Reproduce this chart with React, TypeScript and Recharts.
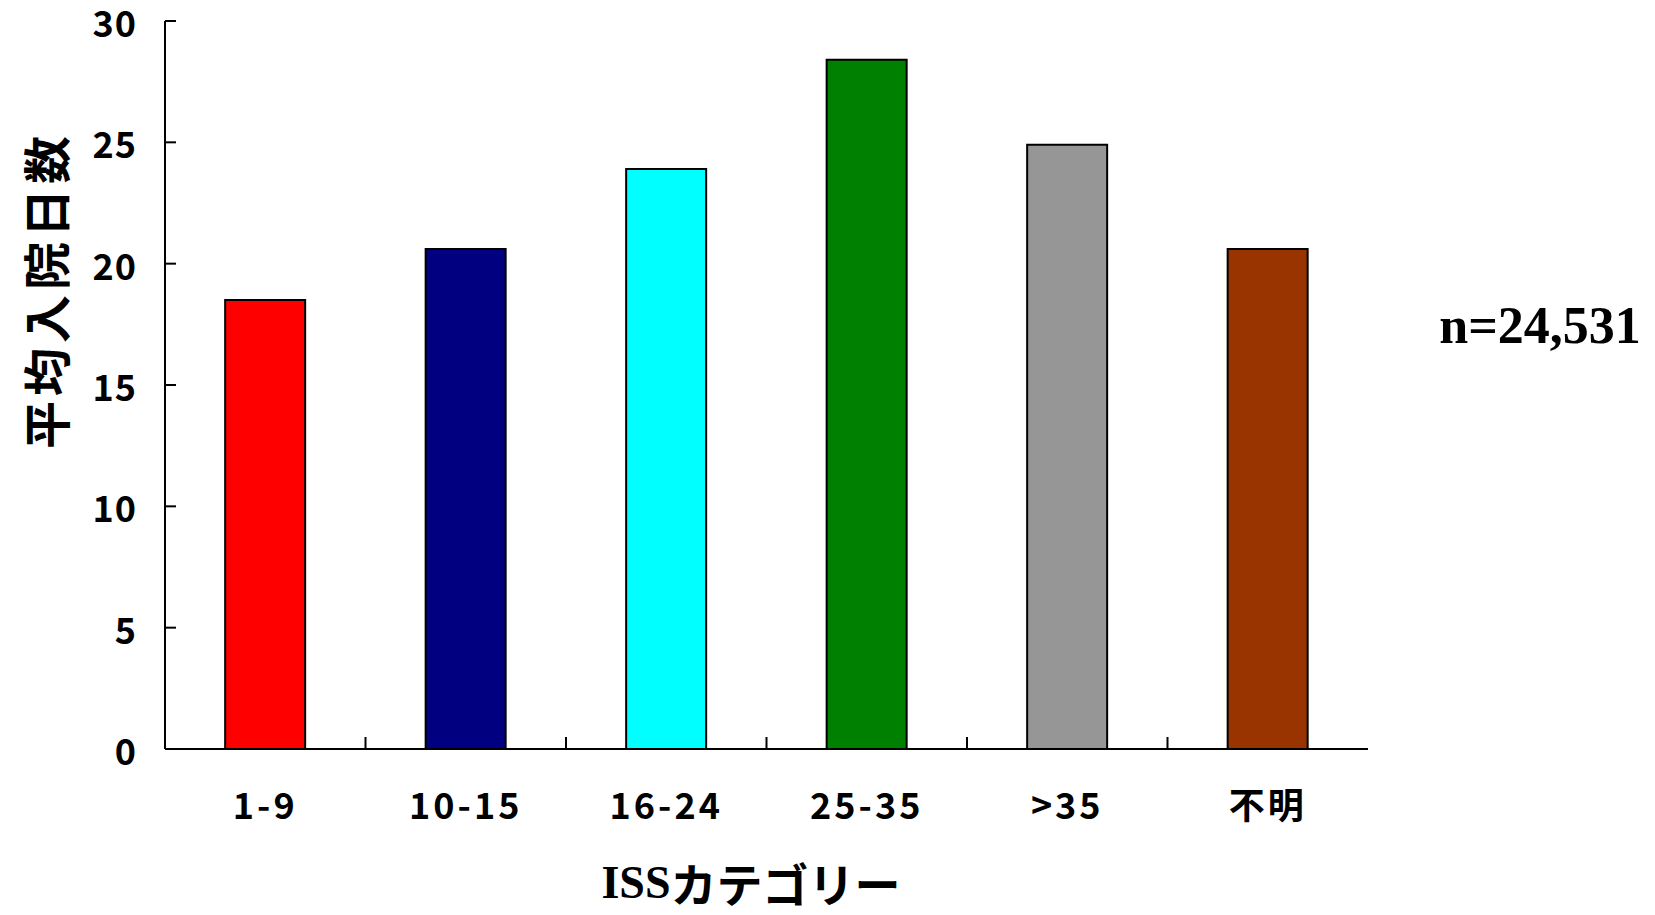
import React from "react";
import { Bar, BarChart, Cell, XAxis, YAxis } from "recharts";

const categories = ["1-9", "10-15", "16-24", "25-35", ">35", "不明"];
const avgDays = [18.5, 20.6, 23.9, 28.4, 24.9, 20.6];
const barColors = ["#FF0000", "#000080", "#00FFFF", "#008000", "#969696", "#993300"];
const yTicks = [0, 5, 10, 15, 20, 25, 30];
const yLabel = "平均入院日数";
const xLabel = "カテゴリー";
const nLabel = "n=24,531";

const data = categories.map((cat, i) => ({ cat, v: avgDays[i] }));

const tickFont = "'Noto Sans CJK JP', 'DejaVu Sans', sans-serif";

function XTick(props: any) {
  const { x, y, payload, index } = props;
  const axisY = y - 54;
  const edge = x - payload.offset;
  return (
    <g>
      {index > 0 && (
        <line x1={edge} x2={edge} y1={axisY} y2={axisY - 12} stroke="#000" strokeWidth={2} />
      )}
      <text
        x={x}
        y={y}
        textAnchor="middle"
        dominantBaseline="central"
        fontFamily={tickFont}
        fontWeight={700}
        fontSize={36}
        letterSpacing={3}
        fill="#000"
      >
        {payload.value}
      </text>
    </g>
  );
}

function YTick(props: any) {
  const { x, y, payload } = props;
  const axisX = x + 28;
  return (
    <g>
      <line x1={axisX} x2={axisX + 11} y1={y} y2={y} stroke="#000" strokeWidth={2} />
      <text
        x={x}
        y={y}
        textAnchor="end"
        dominantBaseline="central"
        fontFamily={tickFont}
        fontWeight={700}
        fontSize={36}
        letterSpacing={1}
        fill="#000"
      >
        {payload.value}
      </text>
    </g>
  );
}

export default function App() {
  return (
    <div style={{ position: "absolute", left: 0, top: 0, width: 1655, height: 915, background: "#fff" }}>
      <BarChart
        width={1655}
        height={915}
        data={data}
        margin={{ top: 21, right: 287, bottom: 106, left: 105 }}
        barCategoryGap="30%"
      >
        <XAxis
          xAxisId="cat"
          dataKey="cat"
          height={60}
          axisLine={{ stroke: "#000", strokeWidth: 2 }}
          tickLine={false}
          tickSize={0}
          tickMargin={54}
          tick={<XTick />}
          interval={0}
        />
        <XAxis
          xAxisId="top"
          dataKey="cat"
          orientation="top"
          height={0}
          tick={false}
          tickLine={false}
          axisLine={{ stroke: "#000", strokeWidth: 2 }}
        />
        <YAxis
          yAxisId="val"
          width={60}
          domain={[0, 30]}
          ticks={yTicks}
          axisLine={{ stroke: "#000", strokeWidth: 2 }}
          tickLine={false}
          tickSize={0}
          tickMargin={28}
          tick={<YTick />}
          interval={0}
        />
        <YAxis
          yAxisId="right"
          orientation="right"
          width={0}
          domain={[0, 30]}
          tick={false}
          tickLine={false}
          axisLine={{ stroke: "#000", strokeWidth: 2 }}
        />
        <Bar
          dataKey="v"
          xAxisId="cat"
          yAxisId="val"
          stroke="#000"
          strokeWidth={2}
          isAnimationActive={false}
        >
          {data.map((d, i) => (
            <Cell key={d.cat} fill={barColors[i]} />
          ))}
        </Bar>
        <text
          x={44}
          y={290}
          transform="rotate(-90 44 290)"
          textAnchor="middle"
          dominantBaseline="central"
          fontFamily={tickFont}
          fontWeight={700}
          fontSize={48}
          letterSpacing={5}
          fill="#000"
        >
          {yLabel}
        </text>
        <text
          x={751}
          y={882}
          textAnchor="middle"
          dominantBaseline="central"
          fontWeight={700}
          fontSize={46}
          fill="#000"
        >
          <tspan fontFamily="'Liberation Serif', serif">ISS</tspan>
          <tspan fontFamily={tickFont}>{xLabel}</tspan>
        </text>
        <text
          x={1540}
          y={325}
          textAnchor="middle"
          dominantBaseline="central"
          fontFamily="'Liberation Serif', serif"
          fontWeight={700}
          fontSize={52}
          fill="#000"
        >
          {nLabel}
        </text>
      </BarChart>
    </div>
  );
}
